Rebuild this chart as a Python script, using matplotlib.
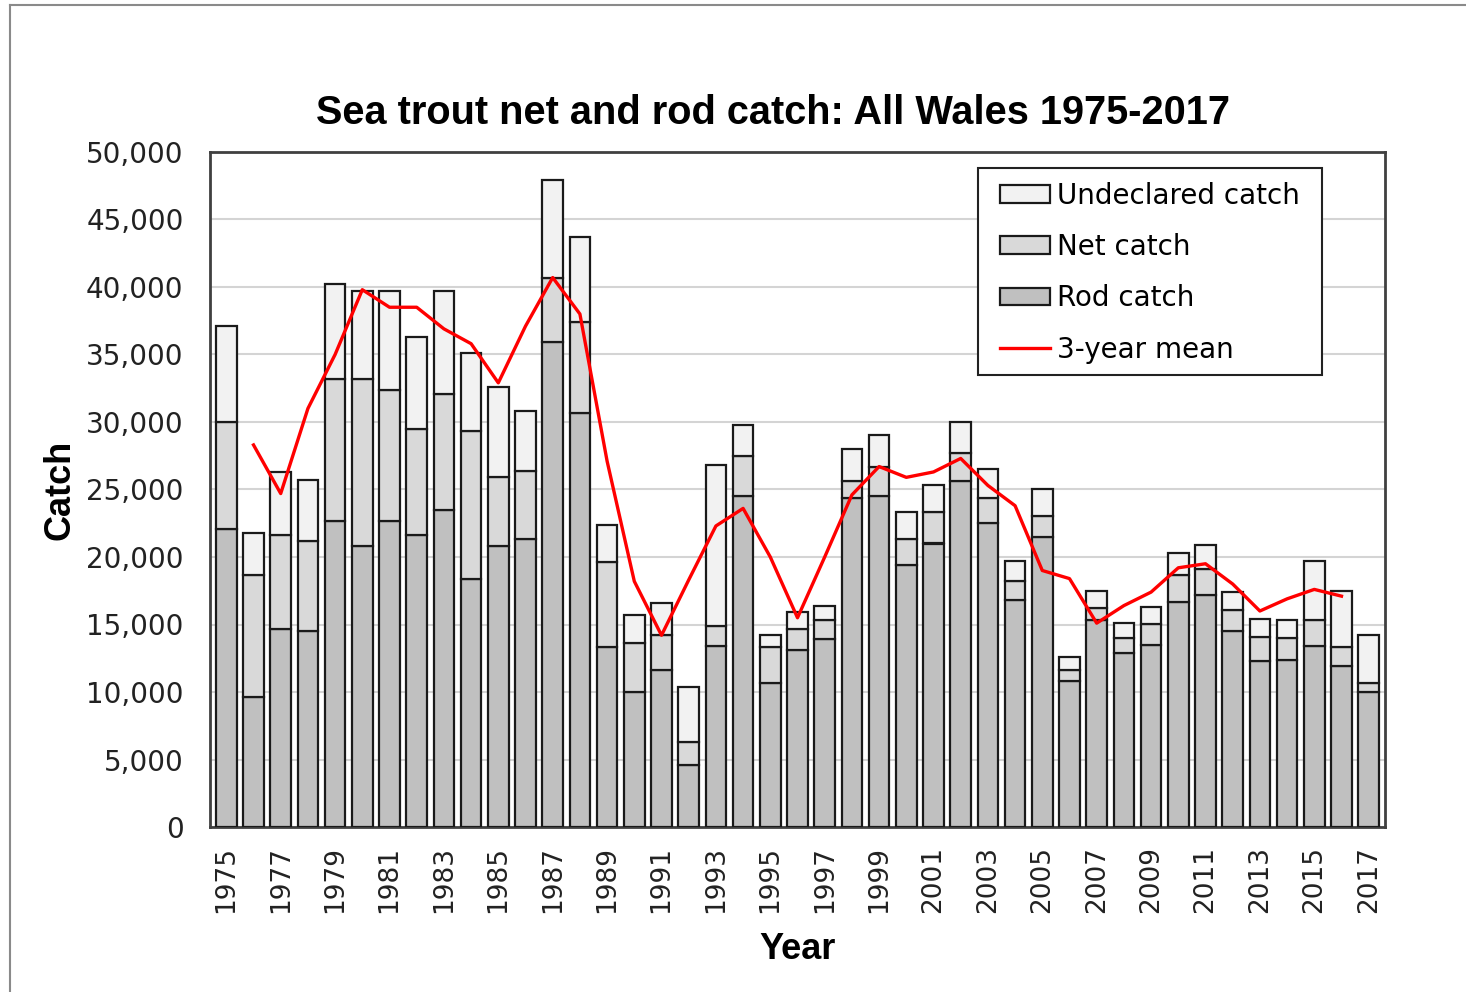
import numpy as np
import matplotlib
matplotlib.use("Agg")
import matplotlib.pyplot as plt
from matplotlib.ticker import FuncFormatter
from matplotlib.lines import Line2D
from matplotlib.patches import Rectangle

# ── Data ──────────────────────────────────────────────────────────────────────
years = list(range(1975, 2018))

rod_catch = [22100, 9600, 14700, 14500, 22700, 20800, 22700, 21600, 23500, 18400,
             20800, 21300, 35900, 30700, 13300, 10000, 11600, 4600, 13400, 24500,
             10700, 13100, 13900, 24400, 24500, 19400, 21000, 25600, 22500, 16800,
             21500, 10800, 15300, 12900, 13500, 16700, 17200, 14500, 12300, 12400,
             13400, 11900, 10000]
net_catch = [7900, 9100, 6900, 6700, 10500, 12400, 9700, 7900, 8600, 10900,
             5100, 5100, 4800, 6700, 6300, 3600, 2600, 1700, 1500, 3000,
             2600, 1600, 1400, 1200, 2200, 1900, 2300, 2100, 1900, 1400,
             1500, 800, 900, 1100, 1500, 2000, 1900, 1600, 1800, 1600,
             1900, 1400, 700]
undeclared_catch = [7100, 3100, 4700, 4500, 7000, 6500, 7300, 6800, 7600, 5800,
                    6700, 4400, 7200, 6300, 2800, 2100, 2400, 4100, 11900, 2300,
                    900, 1200, 1100, 2400, 2300, 2000, 2000, 2300, 2100, 1500,
                    2000, 1000, 1300, 1100, 1300, 1600, 1800, 1300, 1300, 1300,
                    4400, 4200, 3500]

mean_years = list(range(1976, 2017))
mean_3yr = [28300, 24700, 31000, 35000, 39800, 38500, 38500, 36900, 35800, 32900,
            37100, 40700, 38000, 27100, 18200, 14200, 18300, 22300, 23600, 20000,
            15500, 20000, 24600, 26700, 25900, 26300, 27300, 25300, 23800, 19000,
            18400, 15100, 16400, 17400, 19200, 19500, 18000, 16000, 16900, 17600,
            17100]

year_ticks = list(range(1975, 2018, 2))

# ── Style ─────────────────────────────────────────────────────────────────────
plt.rcParams.update({
    "font.family": "DejaVu Sans",
    "font.size": 20,
})

fig = plt.figure(figsize=(14.66, 9.92), dpi=100)
ax = fig.add_axes([210 / 1466, 1 - 827 / 992, 1175 / 1466, 675 / 992])

rod = np.array(rod_catch)
net = np.array(net_catch)
und = np.array(undeclared_catch)

bw = 0.76
ekw = dict(edgecolor="#1a1a1a", linewidth=1.6, width=bw, zorder=3)
b_rod = ax.bar(years, rod, color="#c0c0c0", label="Rod catch", **ekw)
b_net = ax.bar(years, net, bottom=rod, color="#d9d9d9", label="Net catch", **ekw)
b_und = ax.bar(years, und, bottom=rod + net, color="#f2f2f2",
               label="Undeclared catch", **ekw)
ln, = ax.plot(mean_years, mean_3yr, color="#ff0000", lw=2.4, zorder=4,
              label="3-year mean")

ax.set_xlim(1974.4, 2017.6)
ax.set_ylim(0, 50000)
ax.set_yticks(np.arange(0, 50001, 5000))
ax.yaxis.set_major_formatter(FuncFormatter(lambda v, p: f"{int(v):,}"))
ax.set_xticks(year_ticks)
ax.set_xticklabels([str(y) for y in year_ticks], rotation=90)
ax.tick_params(axis="y", length=0, pad=19, labelsize=20, colors="#222222")
ax.tick_params(axis="x", length=0, pad=14, labelsize=19, colors="#222222")
ax.grid(True, axis="y", color="#d4d4d4", lw=1.5, zorder=0)
ax.set_axisbelow(True)
for s in ax.spines.values():
    s.set_color("#404040")
    s.set_linewidth(2)

ax.set_ylabel("Catch", fontsize=26, fontweight="bold", family="Liberation Sans")
ax.yaxis.set_label_coords(-0.113, 0.5)
ax.set_xlabel("Year", fontsize=26, fontweight="bold", family="Liberation Sans")
ax.xaxis.set_label_coords(0.50, -0.155)

fig.text(773 / 1466, 1 - 124 / 992, "Sea trout net and rod catch: All Wales 1975-2017",
         ha="center", va="baseline", fontsize=28.6, fontweight="bold",
         family="Liberation Sans")

# legend box drawn separately so the padding can match the reference
ax.add_patch(Rectangle((0.6536, 0.6696), 0.9464 - 0.6536, 0.9763 - 0.6696,
                       transform=ax.transAxes, facecolor="white",
                       edgecolor="#222222", lw=1.5, zorder=5))
leg = ax.legend(handles=[b_und, b_net, b_rod, ln],
                loc="upper left", bbox_to_anchor=(0.6723, 0.956),
                frameon=False, fontsize=20, handlelength=1.8, handleheight=0.6,
                handletextpad=0.25, labelspacing=0.84, borderpad=0,
                borderaxespad=0)
leg.set_zorder(6)

# outer chart-area frame (top and left edges visible)
fig.add_artist(Line2D([10 / 1466, 1.0], [1 - 5 / 992, 1 - 5 / 992],
                      transform=fig.transFigure, color="#8a8a8a", lw=1.5))
fig.add_artist(Line2D([10 / 1466, 10 / 1466], [0, 1 - 5 / 992],
                      transform=fig.transFigure, color="#8a8a8a", lw=1.5))

fig.savefig("out.png", dpi=100)
